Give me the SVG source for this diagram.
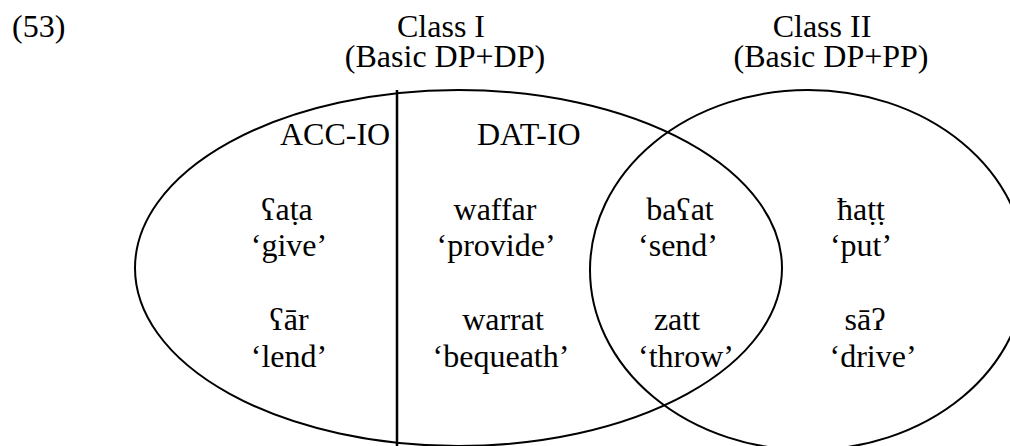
<svg xmlns="http://www.w3.org/2000/svg" width="1010" height="446" viewBox="0 0 1010 446">
<style>
.t{font-family:"Liberation Serif","Times New Roman","DejaVu Serif",serif;font-size:32px;fill:#000}
.s{fill:none;stroke:#000;stroke-width:2}
</style>
<rect x="0" y="0" width="1010" height="446" fill="#fff"/>
<text class="t" x="12" y="37">(53)</text>
<g id="class-I">
<ellipse class="s" cx="458.5" cy="268" rx="323.5" ry="178"/>
<line x1="397" y1="90" x2="397" y2="446" stroke="#000" stroke-width="2.5"/>
<text class="t" x="441" y="37" text-anchor="middle">Class I</text>
<text class="t" x="445" y="67" text-anchor="middle">(Basic DP+DP)</text>
<text class="t" x="280" y="145">ACC-IO</text>
<text class="t" x="477" y="145">DAT-IO</text>
</g>
<g id="class-II">
<ellipse class="s" cx="808" cy="270" rx="218" ry="180"/>
<text class="t" x="822" y="37" text-anchor="middle">Class II</text>
<text class="t" x="831" y="67" text-anchor="middle">(Basic DP+PP)</text>
</g>
<g id="acc-io-words">
<text class="t" x="287" y="220" text-anchor="middle">ʕaṭa</text>
<text class="t" x="289" y="256" text-anchor="middle">‘give’</text>
<text class="t" x="289" y="330" text-anchor="middle">ʕār</text>
<text class="t" x="289" y="367" text-anchor="middle">‘lend’</text>
</g>
<g id="dat-io-words">
<text class="t" x="495" y="220" text-anchor="middle">waffar</text>
<text class="t" x="496" y="256" text-anchor="middle">‘provide’</text>
<text class="t" x="503" y="330" text-anchor="middle">warrat</text>
<text class="t" x="501" y="367" text-anchor="middle">‘bequeath’</text>
</g>
<g id="overlap-words">
<text class="t" x="680" y="220" text-anchor="middle">baʕat</text>
<text class="t" x="678" y="256" text-anchor="middle">‘send’</text>
<text class="t" x="677" y="330" text-anchor="middle">zatt</text>
<text class="t" x="686" y="367" text-anchor="middle">‘throw’</text>
</g>
<g id="class-II-words">
<text class="t" x="861" y="220" text-anchor="middle">ħaṭṭ</text>
<text class="t" x="861" y="256" text-anchor="middle">‘put’</text>
<text class="t" x="865" y="330" text-anchor="middle">sāʔ</text>
<text class="t" x="873" y="367" text-anchor="middle">‘drive’</text>
</g>
<g id="connectors"/>
</svg>
